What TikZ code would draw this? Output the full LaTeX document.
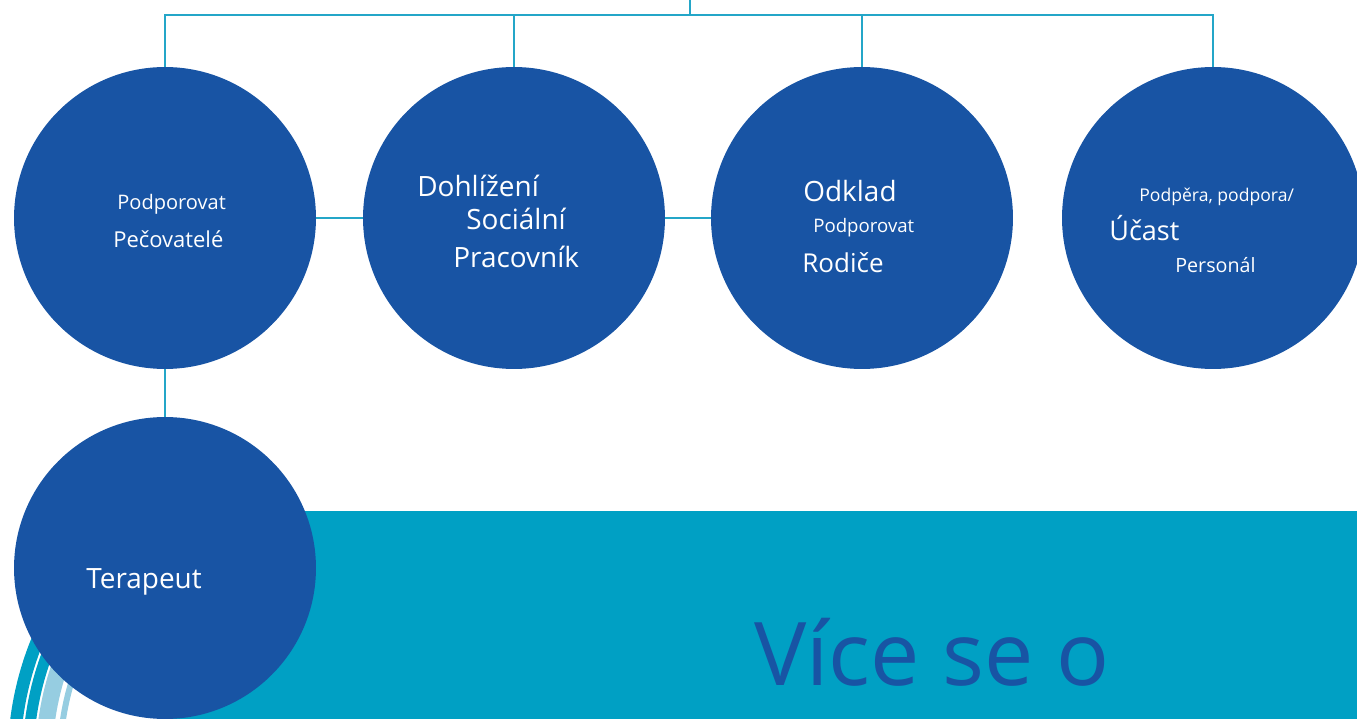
\documentclass[tikz,border=0pt]{standalone}
\usepackage{fontspec}
\setmainfont{Open Sans}
\usetikzlibrary{positioning}
\definecolor{orgblue}{RGB}{24,84,164}
\definecolor{orgteal}{RGB}{0,160,196}
\definecolor{orgline}{RGB}{36,166,200}
\definecolor{orglight}{RGB}{150,205,225}

\begin{document}
\begin{tikzpicture}
  [x=0.02cm,y=-0.02cm,
   role/.style={circle,fill=orgblue,inner sep=0pt,minimum size=6.04cm},
   link/.style={draw=orgline,line width=1.3pt},
   label/.style={text=white,anchor=base west,inner sep=0pt},
   ring/.style={line width=#1}]
  \useasboundingbox (0,0) rectangle (1357,719);
  \clip (0,0) rectangle (1357,719);
  % background band and swoosh
  \fill[orgteal] (166,511) rectangle (1357,719);
  \begin{scope}
    \clip (0,600) rectangle (150,719);
    \draw[orgteal,ring=7.2pt] (330,760) circle (316);
    \draw[orgteal,ring=6.3pt] (330,760) circle (302);
    \draw[orglight,ring=9.5pt] (330,760) circle (286);
    \draw[orglight,ring=3.4pt] (330,760) circle (270);
  \end{scope}
  % circles
  \node at (165,218) [role] (care) {};
  \node at (514,218) [role] (social) {};
  \node at (862,218) [role] (parents) {};
  \node at (1213,218) [role] (staff) {};
  \node at (165,568) [role] (therapist) {};
  % connectors
  \coordinate (hub) at (690,0);
  \coordinate (bus) at (690,15);
  \draw[link] (hub) -- (bus);
  \draw[link] (care.north) |- (bus) -| (staff.north);
  \draw[link] (social.north) -- (social.north |- bus);
  \draw[link] (parents.north) -- (parents.north |- bus);
  \draw[link] (care.east) -- (social.west);
  \draw[link] (social.east) -- (parents.west);
  \draw[link] (care.south) -- (therapist.north);
  % labels
  \node at (117,210) [label,font=\fontsize{11.4}{13}\selectfont] (care1) {Podporovat};
  \node at (113,248) [label,font=\fontsize{12.5}{15}\selectfont] (care2) {Pečovatelé};
  \node at (417,197) [label,font=\fontsize{15.9}{19}\selectfont] (social1) {Dohlížení};
  \node at (466,230) [label,font=\fontsize{15.9}{19}\selectfont] (social2) {Sociální};
  \node at (453,268) [label,font=\fontsize{15.9}{19}\selectfont] (social3) {Pracovník};
  \node at (803,202) [label,font=\fontsize{15.9}{19}\selectfont] (parents1) {Odklad};
  \node at (813,233) [label,font=\fontsize{10.6}{13}\selectfont] (parents2) {Podporovat};
  \node at (802,273) [label,font=\fontsize{14.8}{18}\selectfont] (parents3) {Rodiče};
  \node at (1139,202) [label,font=\fontsize{10}{12}\selectfont] (staff1) {Podpěra, podpora/};
  \node at (1109,241) [label,font=\fontsize{15.4}{18}\selectfont] (staff2) {Účast};
  \node at (1175,273) [label,font=\fontsize{11.2}{13}\selectfont] (staff3) {Personál};
  \node at (86,589) [label,font=\fontsize{15.9}{19}\selectfont] (therapist1) {Terapeut};
  \node at (754,685) [label,text=orgblue,font=\fontsize{50}{60}\selectfont] (more) {Více se o};
\end{tikzpicture}
\end{document}
